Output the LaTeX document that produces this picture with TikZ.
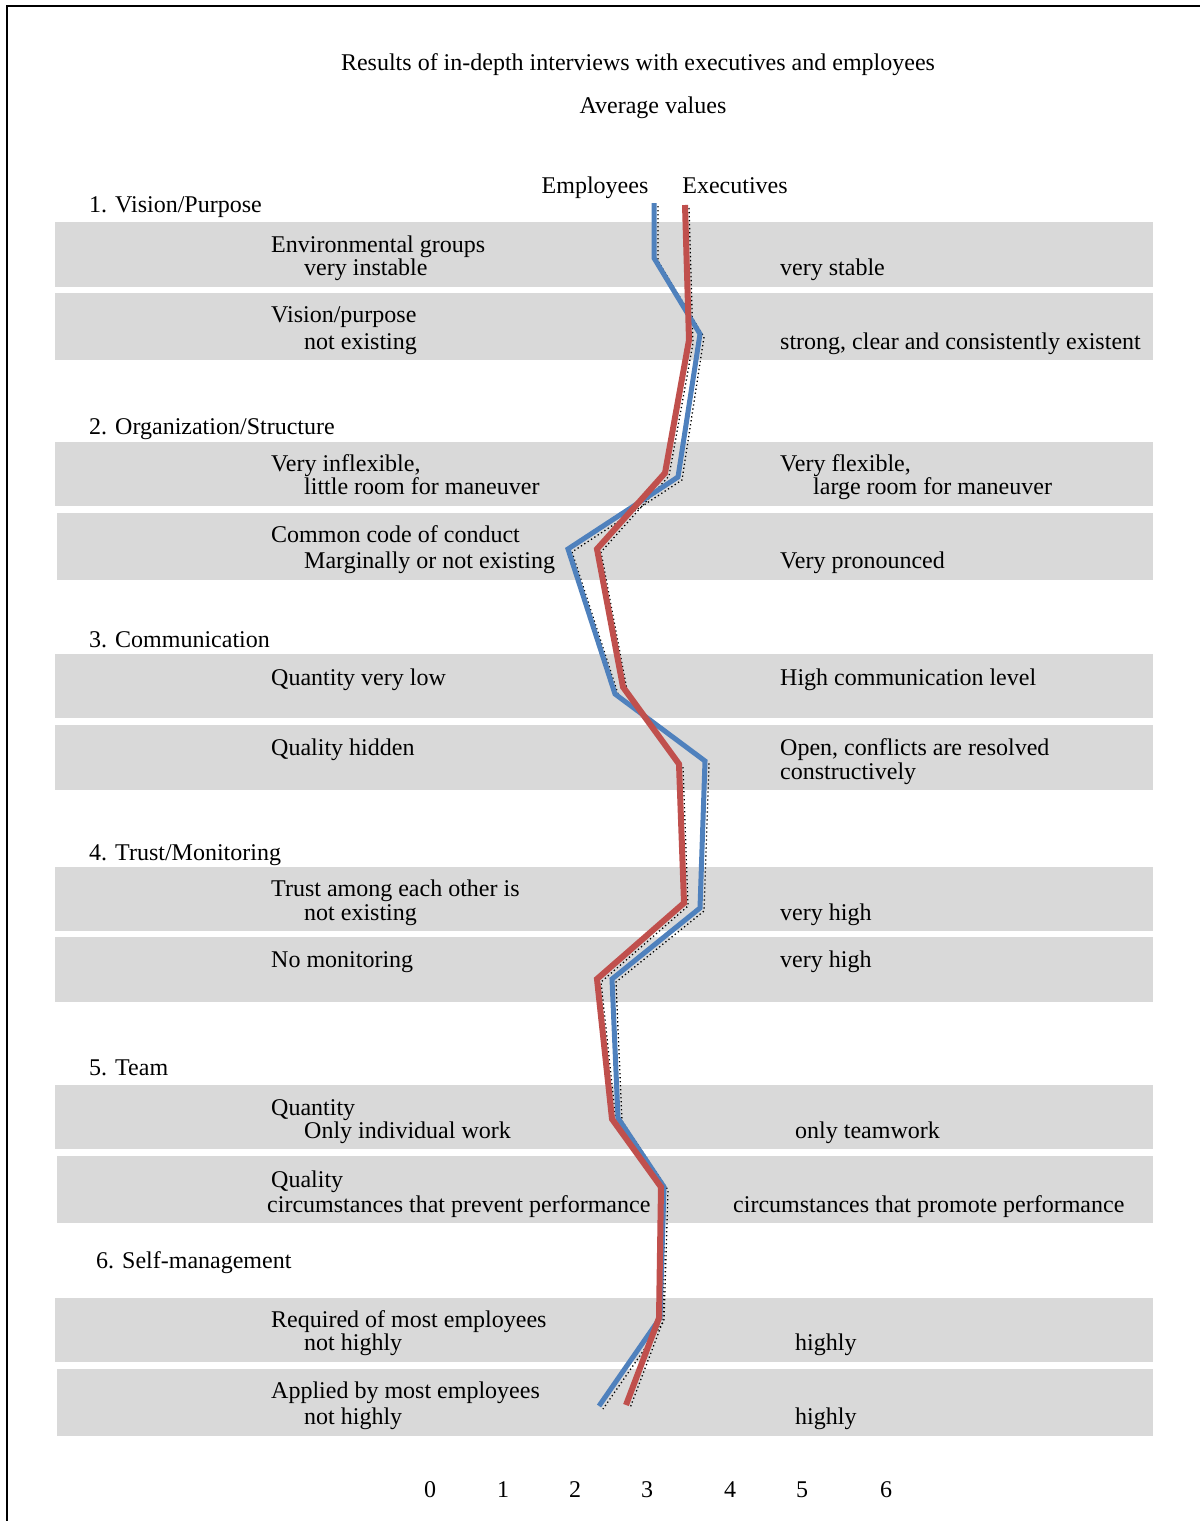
\documentclass[tikz,border=0pt]{standalone}
\usepackage{fontspec}
\setmainfont{Liberation Serif}
\usetikzlibrary{positioning}
\definecolor{bandgray}{HTML}{D9D9D9}
\definecolor{empblue}{HTML}{4F81BD}
\definecolor{execred}{HTML}{C0504D}
\tikzset{
    txt/.style={anchor=base west, inner sep=0pt, font=\fontsize{24}{29}\selectfont},
    ctxt/.style={txt, anchor=base},
    band/.style={fill=bandgray, draw=none},
    shade/.style={black, line width=1.3pt, dash pattern=on 1.3pt off 2.7pt, shift={(4,3)}},
    emp/.style={empblue, line width=5pt},
    exe/.style={execred, line width=6pt}
}

\begin{document}
\begin{tikzpicture}[x=1pt, y=-1pt]

\useasboundingbox (0,0) rectangle (1200,1521);
\draw[line width=2pt] (7,1521) -- (7,6) -- (1200,6);

% title
\node[ctxt] (title) at (638,70) {Results of in-depth interviews with executives and employees};
\node[ctxt] (avg) at (653,113) {Average values};
\node[ctxt] (emplbl) at (595,193) {Employees};
\node[ctxt] (exelbl) at (735,193) {Executives};

% grey bands
\foreach \l/\t/\b in {55/222/287, 55/293/360, 55/442/506, 57/513/580,
                      55/654/718, 55/725/790, 55/867/931, 55/937/1002,
                      55/1085/1149, 57/1156/1223, 55/1298/1362, 57/1369/1436}
    \fill[band] (\l,\t) rectangle (1153,\b);

% section headings
\node[txt] (s1) at (89,212) {1. Vision/Purpose};
\node[txt] (s2) at (89,434) {2. Organization/Structure};
\node[txt] (s3) at (89,647) {3. Communication};
\node[txt] (s4) at (89,860) {4. Trust/Monitoring};
\node[txt] (s5) at (89,1075) {5. Team};
\node[txt] (s6) at (96,1268) {6. Self-management};

% left poles
\node[txt] (l1a) at (271,252) {Environmental groups};
\node[txt] (l1b) at (304,275) {very instable};
\node[txt] (l2a) at (271,322) {Vision/purpose};
\node[txt] (l2b) at (304,349) {not existing};
\node[txt] (l3a) at (271,471) {Very inflexible,};
\node[txt] (l3b) at (304,494) {little room for maneuver};
\node[txt] (l4a) at (271,542) {Common code of conduct};
\node[txt] (l4b) at (304,568) {Marginally or not existing};
\node[txt] (l5) at (271,685) {Quantity very low};
\node[txt] (l6) at (271,755) {Quality hidden};
\node[txt] (l7a) at (271,896) {Trust among each other is};
\node[txt] (l7b) at (304,920) {not existing};
\node[txt] (l8) at (271,967) {No monitoring};
\node[txt] (l9a) at (271,1115) {Quantity};
\node[txt] (l9b) at (304,1138) {Only individual work};
\node[txt] (l10a) at (271,1187) {Quality};
\node[txt] (l10b) at (267,1212) {circumstances that prevent performance};
\node[txt] (l11a) at (271,1327) {Required of most employees};
\node[txt] (l11b) at (304,1350) {not highly};
\node[txt] (l12a) at (271,1398) {Applied by most employees};
\node[txt] (l12b) at (304,1424) {not highly};

% right poles
\node[txt] (r1) at (780,275) {very stable};
\node[txt] (r2) at (780,349) {strong, clear and consistently existent};
\node[txt] (r3a) at (780,471) {Very flexible,};
\node[txt] (r3b) at (813,494) {large room for maneuver};
\node[txt] (r4) at (780,568) {Very pronounced};
\node[txt] (r5) at (780,685) {High communication level};
\node[txt] (r6a) at (780,755) {Open, conflicts are resolved};
\node[txt] (r6b) at (780,779) {constructively};
\node[txt] (r7) at (780,920) {very high};
\node[txt] (r8) at (780,967) {very high};
\node[txt] (r9) at (795,1138) {only teamwork};
\node[txt] (r10) at (733,1212) {circumstances that promote performance};
\node[txt] (r11) at (795,1350) {highly};
\node[txt] (r12) at (795,1424) {highly};

% profile lines
\def\empline{(654,203) -- (654,258) -- (700,334) -- (678,477) -- (568,549) -- (615,694)
    -- (705,761) -- (700,908) -- (612,979) -- (618,1118) -- (664,1187) -- (660,1318) -- (599,1406)}
\def\exeline{(685,205) -- (689,340) -- (665,473) -- (597,549) -- (623,687) -- (679,764)
    -- (684,903) -- (597,979) -- (612,1119) -- (661,1187) -- (659,1318) -- (626,1405)}
\draw[shade] \empline;
\draw[shade] \exeline;
\draw[emp] \empline;
\draw[exe] \exeline;

% scale
\foreach \v/\x in {0/430, 1/503, 2/575, 3/647, 4/730, 5/802, 6/886}
    \node[ctxt] (tick\v) at (\x,1497) {\v};

\end{tikzpicture}
\end{document}
